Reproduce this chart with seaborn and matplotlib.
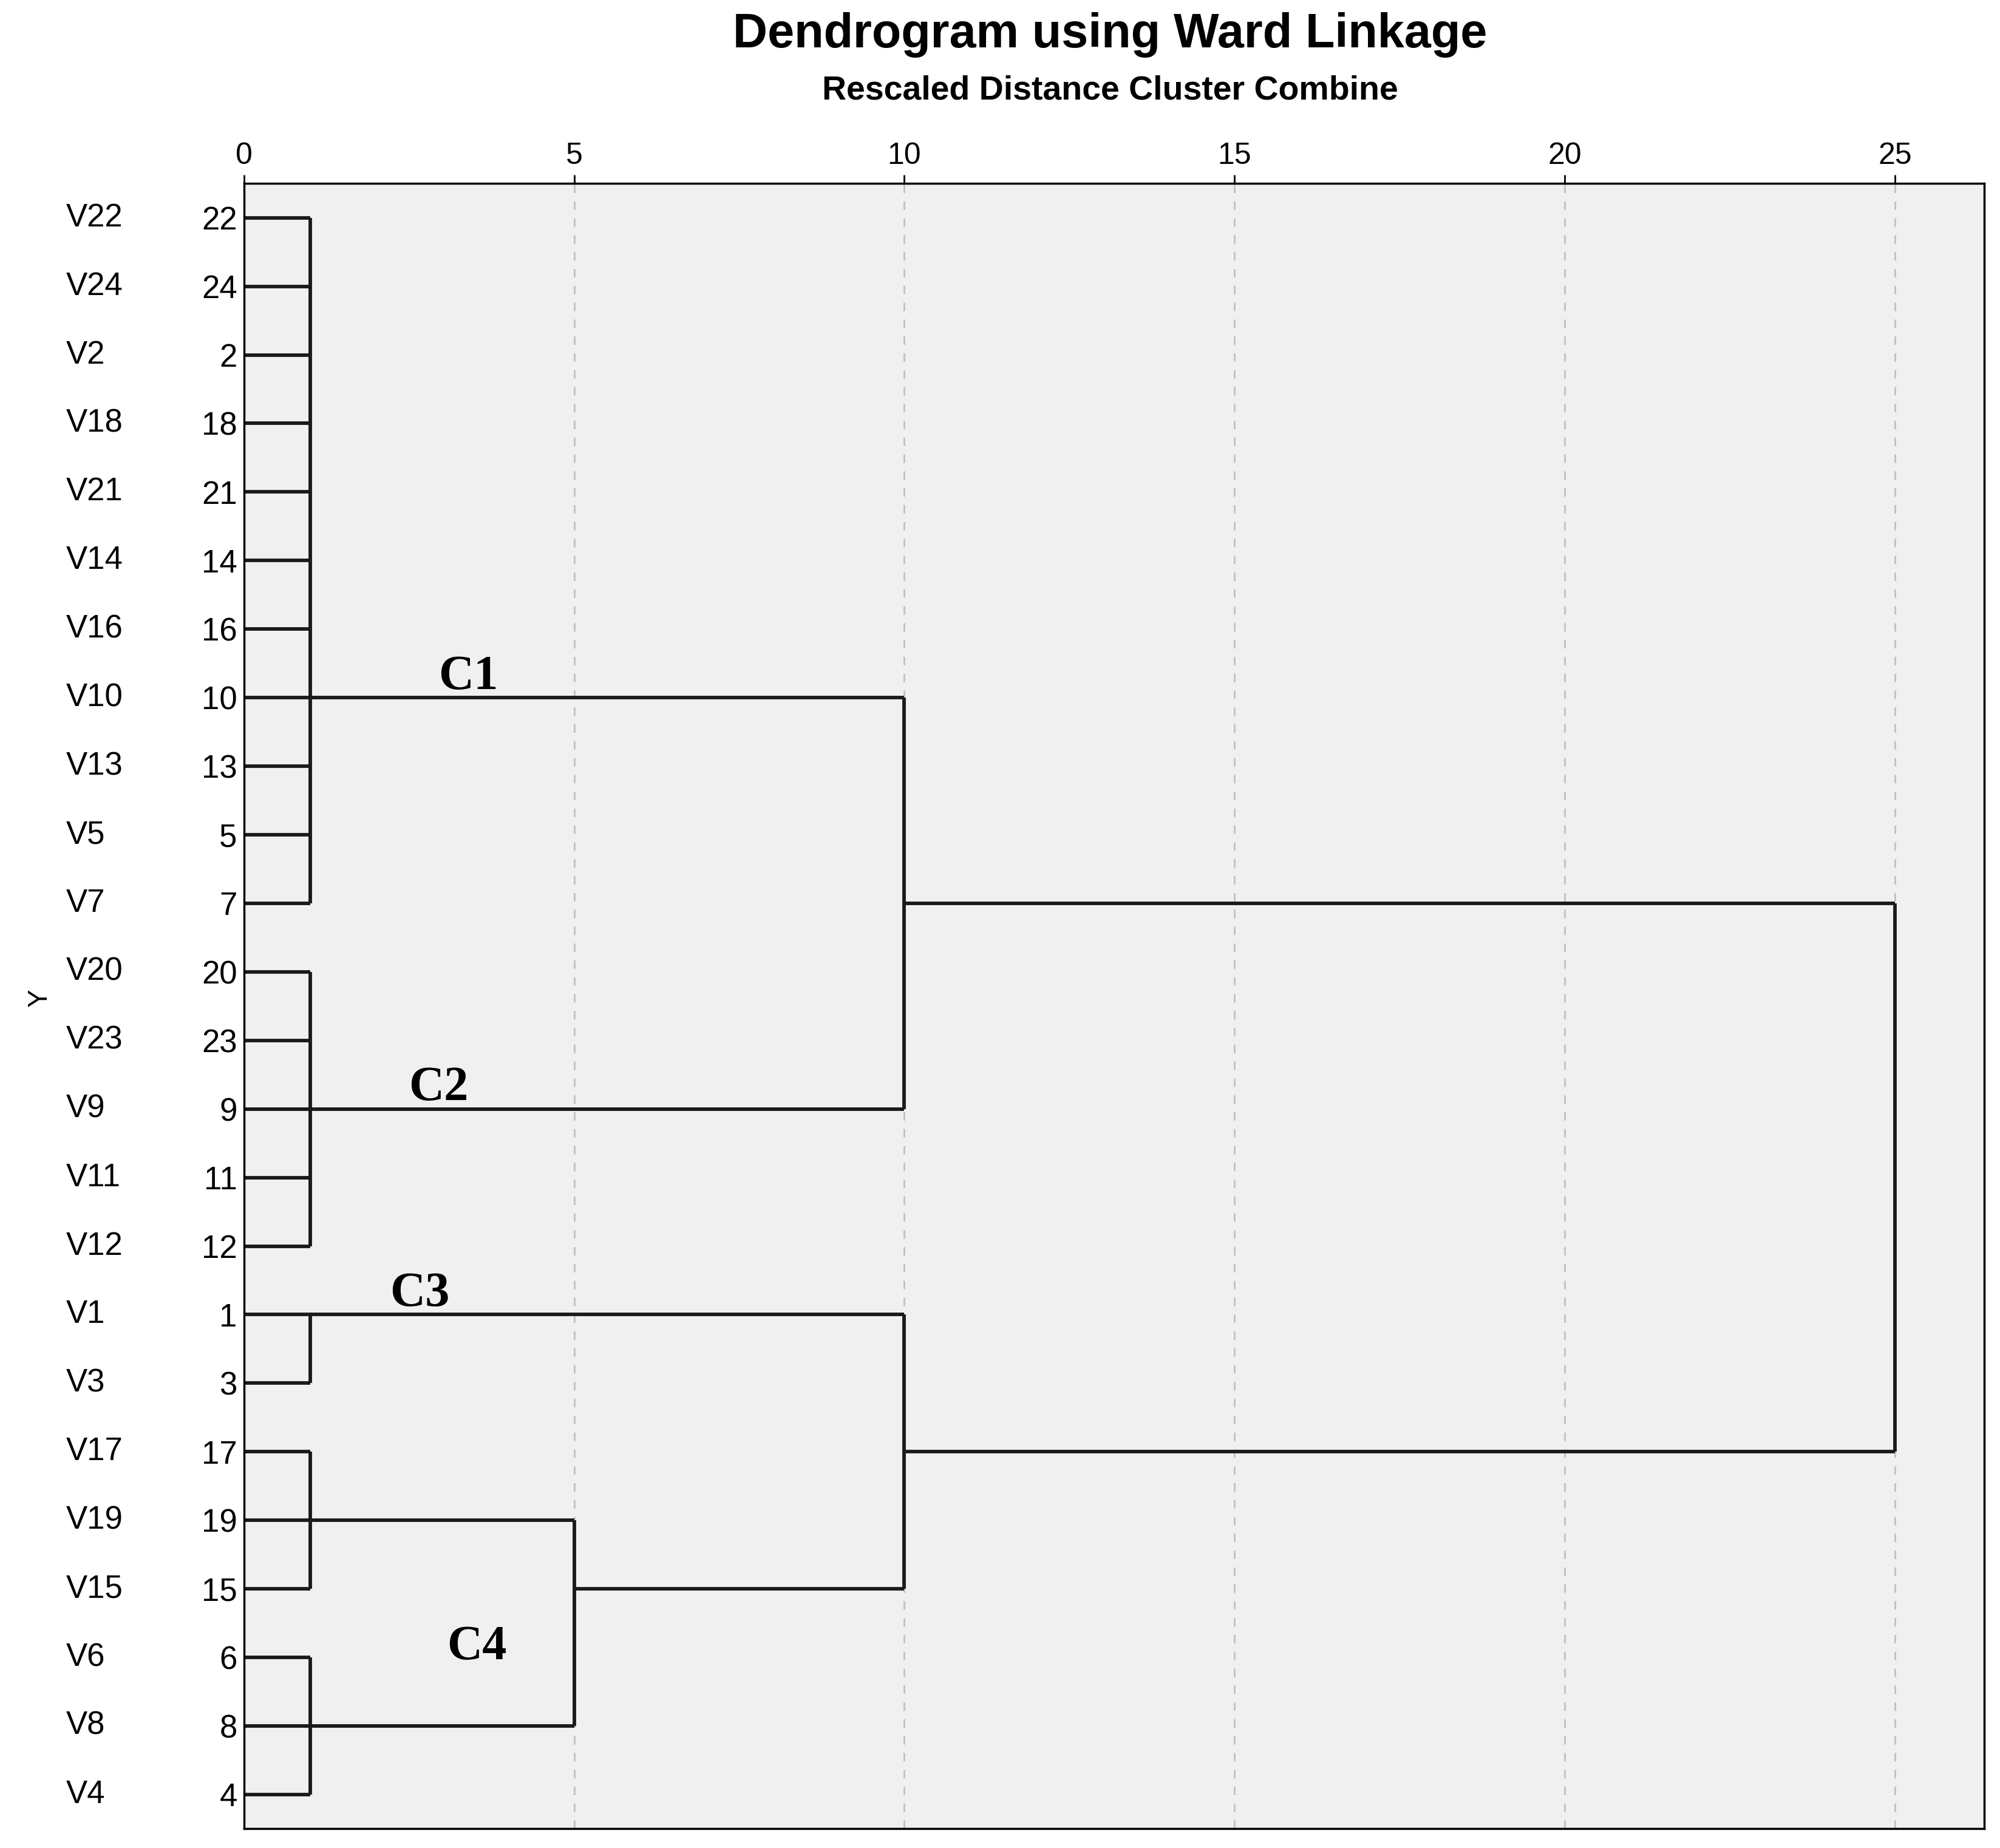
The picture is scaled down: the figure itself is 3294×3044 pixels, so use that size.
import matplotlib
matplotlib.use("Agg")
import matplotlib.pyplot as plt
import matplotlib.transforms as mtransforms
import seaborn as sns

# leaves in dendrogram order (top to bottom)
leaf_names = ["V22", "V24", "V2", "V18", "V21", "V14", "V16", "V10", "V13", "V5", "V7",
              "V20", "V23", "V9", "V11", "V12", "V1", "V3", "V17", "V19", "V15", "V6", "V8", "V4"]
leaf_numbers = ["22", "24", "2", "18", "21", "14", "16", "10", "13", "5", "7",
                "20", "23", "9", "11", "12", "1", "3", "17", "19", "15", "6", "8", "4"]

# merges: (name, children, rescaled distance, row where the link leaves the bracket)
merges = [
    ("A", leaf_names[0:11], 1, "V10"),
    ("B", leaf_names[11:16], 1, "V9"),
    ("C", leaf_names[16:18], 1, "V1"),
    ("D", leaf_names[18:21], 1, "V19"),
    ("E", leaf_names[21:24], 1, "V8"),
    ("F", ["D", "E"], 5, "V15"),
    ("G", ["A", "B"], 10, "V7"),
    ("H", ["C", "F"], 10, "V17"),
    ("I", ["G", "H"], 25, None),
]
cluster_labels = ["C1", "C2", "C3", "C4"]
cluster_label_pos = [(3.4, 6.7), (2.95, 12.7), (2.66, 15.7), (3.53, 20.85)]

sns.set_style("white")
plt.rcParams["font.family"] = ["Liberation Sans", "DejaVu Sans"]
plt.rcParams["text.color"] = "black"
plt.rcParams["xtick.color"] = "black"
plt.rcParams["ytick.color"] = "black"

fig = plt.figure(figsize=(32.94, 30.44), dpi=100)
ax = fig.add_axes([0.122, 0.0104, 0.870, 0.8903])
ax.set_facecolor("#f0f0f0")

row = {n: i for i, n in enumerate(leaf_names)}
node_row = {n: i for i, n in enumerate(leaf_names)}
node_x = {n: 0 for n in leaf_names}
line_kw = dict(color="#1a1a1a", lw=4.2, solid_capstyle="butt")

for name, children, dist, out_leaf in merges:
    ys = [node_row[c] for c in children]
    for c in children:
        sns.lineplot(x=[node_x[c], dist], y=[node_row[c], node_row[c]], ax=ax,
                     estimator=None, sort=False, **line_kw)
    sns.lineplot(x=[dist, dist], y=[min(ys), max(ys)], ax=ax,
                 estimator=None, sort=False, **line_kw)
    node_x[name] = dist
    node_row[name] = row[out_leaf] if out_leaf else None

for lab, (x, y) in zip(cluster_labels, cluster_label_pos):
    ax.text(x, y, lab, fontsize=58, fontweight="bold", family="Liberation Serif",
            ha="center", va="center")

ax.set_xlim(0, 26.35)
ax.set_ylim(len(leaf_names) - 0.5, -0.5)
ax.xaxis.tick_top()
ax.set_xticks([0, 5, 10, 15, 20, 25])
ax.tick_params(axis="x", labelsize=36, length=10, width=2, direction="out", pad=6)
ax.set_yticks(range(len(leaf_numbers)))
ax.set_yticklabels(leaf_numbers)
ax.tick_params(axis="y", labelsize=38, length=0, pad=8)
for x in [5, 10, 15, 20, 25]:
    ax.axvline(x, color="#c0c0c0", lw=2, ls=(0, (5, 5)), zorder=0)
for s in ax.spines.values():
    s.set_color("black")
    s.set_linewidth(2.5)

trans = mtransforms.blended_transform_factory(fig.transFigure, ax.transData)
for i, n in enumerate(leaf_names):
    ax.text(0.033, i, n, transform=trans, fontsize=38, ha="left", va="center", clip_on=False)
fig.text(0.02, 0.46, "Y", fontsize=32, rotation=90, ha="center", va="center")

fig.text(0.555, 0.981, "Dendrogram using Ward Linkage", fontsize=57, fontweight="bold",
         ha="center", va="center")
fig.text(0.555, 0.951, "Rescaled Distance Cluster Combine", fontsize=40, fontweight="bold",
         ha="center", va="center")

fig.savefig("out.png", dpi=100)
